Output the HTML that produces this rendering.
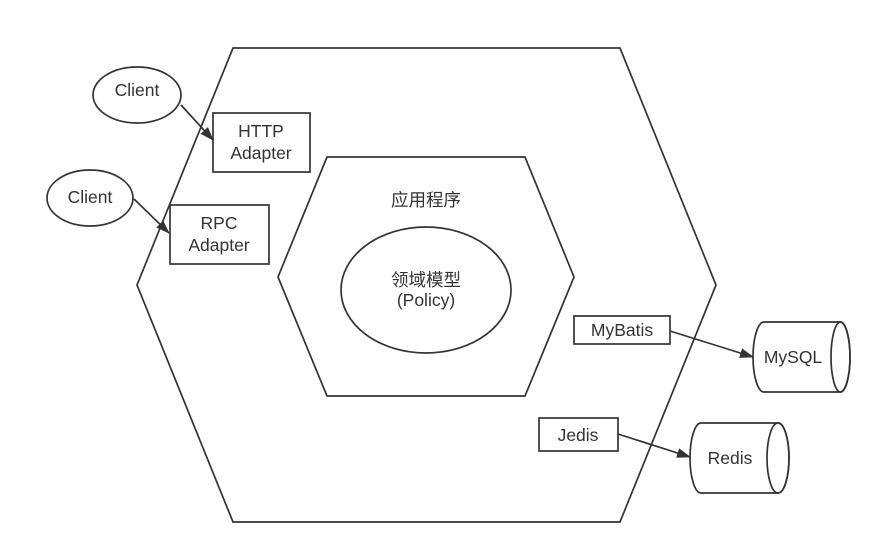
<!DOCTYPE html>
<html><head><meta charset="utf-8"><style>
html,body{margin:0;padding:0;background:#fff;}
svg{display:block;}
text{font-family:"Liberation Sans","Noto Sans CJK SC",sans-serif;font-size:17.5px;fill:#333;text-anchor:middle;dominant-baseline:central;}
</style></head><body>
<svg width="885" height="554" viewBox="0 0 885 554" xmlns="http://www.w3.org/2000/svg">
<defs>
<marker id="ah" markerWidth="14" markerHeight="10" refX="13" refY="5" orient="auto" markerUnits="userSpaceOnUse">
<path d="M0,0 L14,5 L0,10 Z" fill="#333"/>
</marker>
</defs>
<g fill="none" stroke="#333" stroke-width="1.7">
<polygon points="233,48 620,48 716,285 620,522 233,522 137,285" fill="#fff"/>
<polygon points="327,157 525,157 574,277 525,396 327,396 278,277"/>
<ellipse cx="426" cy="290" rx="85" ry="63"/>
<ellipse cx="137" cy="95" rx="44" ry="28" fill="#fff"/>
<ellipse cx="90" cy="198" rx="43" ry="28" fill="#fff"/>
<rect x="213" y="113" width="97" height="59" fill="#fff"/>
<rect x="170" y="205" width="99" height="59" fill="#fff"/>
<rect x="574" y="316" width="96" height="28" fill="#fff"/>
<rect x="539" y="418" width="79" height="33" fill="#fff"/>
<path d="M764,322 L840,322 A10,35 0 0 1 840,392 L764,392 A11,35 0 0 1 764,322 Z" fill="#fff"/>
<ellipse cx="840.5" cy="357" rx="9.5" ry="35"/>
<path d="M701,423 L778,423 A11,35 0 0 1 778,493 L701,493 A11,35 0 0 1 701,423 Z" fill="#fff"/>
<ellipse cx="778" cy="458" rx="11" ry="35"/>
<line x1="181" y1="105" x2="213" y2="140" marker-end="url(#ah)"/>
<line x1="134" y1="199" x2="169" y2="233" marker-end="url(#ah)"/>
<line x1="670" y1="331" x2="753" y2="357" marker-end="url(#ah)"/>
<line x1="618" y1="434" x2="690" y2="457" marker-end="url(#ah)"/>
</g>
<text x="137" y="90">Client</text>
<text x="90" y="197">Client</text>
<text x="261" y="131">HTTP</text>
<text x="261" y="153">Adapter</text>
<text x="219" y="223">RPC</text>
<text x="219" y="245">Adapter</text>
<text x="426" y="200">应用程序</text>
<text x="426" y="280">领域模型</text>
<text x="426" y="300">(Policy)</text>
<text x="622" y="330">MyBatis</text>
<text x="578" y="435">Jedis</text>
<text x="793" y="357">MySQL</text>
<text x="730" y="458">Redis</text>
</svg>
</body></html>
